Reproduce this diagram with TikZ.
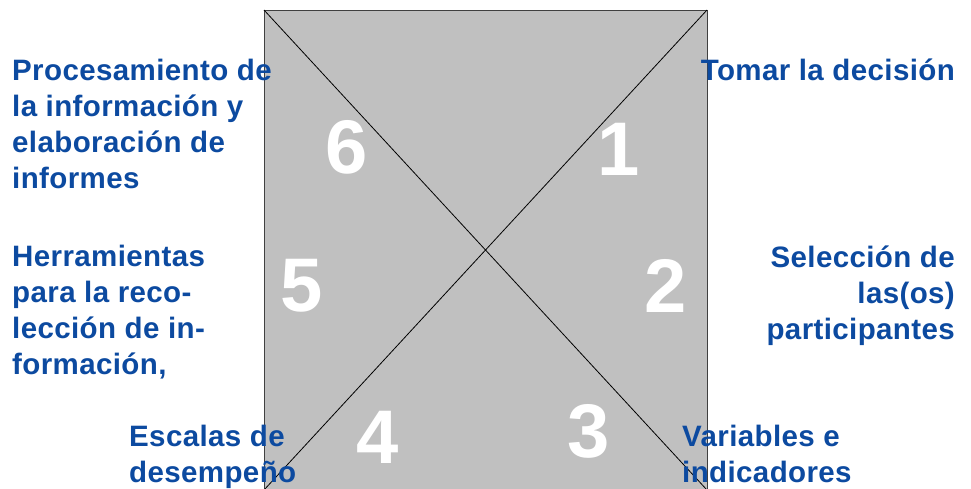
\documentclass[tikz,border=0pt]{standalone}
\usepackage{fontspec}
\setmainfont{Liberation Sans}
\newfontfamily\lblfont[LetterSpace=1.3]{Liberation Sans}
\definecolor{sqgray}{RGB}{192,192,192}
\definecolor{lblblue}{RGB}{12,74,160}
\begin{document}
\begin{tikzpicture}[x=1pt,y=-1pt,
  lbl/.style={text=lblblue, inner sep=0pt, font=\lblfont\fontsize{29.5}{36}\selectfont\bfseries},
  num/.style={text=white, inner sep=0pt, anchor=base, font=\fontsize{76}{80}\selectfont\bfseries}]
\useasboundingbox (0,0) rectangle (971,488);
\clip (0,0) rectangle (971,488);
\coordinate (tl) at (264,10);
\coordinate (tr) at (707,10);
\coordinate (bl) at (264,490);
\coordinate (br) at (707,490);
\draw[fill=sqgray, draw=black!75, line width=1pt] (tl) rectangle (br);
\draw[line width=0.8pt] (tl) -- (br);
\draw[line width=0.8pt] (bl) -- (tr);
\node[num] (n1) at (619,175) {1};
\node[num] (n2) at (666,312) {2};
\node[num] (n3) at (589,457) {3};
\node[num] (n4) at (378,463) {4};
\node[num] (n5) at (302,311) {5};
\node[num] (n6) at (347,173) {6};
\node[lbl, anchor=base west, align=left] (t6) at (12,188) {Procesamiento de\\la información y\\elaboración de\\informes};
\node[lbl, anchor=base east] (t1) at (955,80) {Tomar la decisión};
\node[lbl, anchor=base west, align=left] (t5) at (12,374) {Herramientas\\para la reco-\\lección de in-\\formación,};
\node[lbl, anchor=base east, align=right] (t2) at (955,339) {Selección de\\las(os)\\participantes};
\node[lbl, anchor=base west, align=left] (t4) at (129,482) {Escalas de\\desempeño};
\node[lbl, anchor=base west, align=left] (t3) at (682,482) {Variables e\\indicadores};
\end{tikzpicture}
\end{document}
